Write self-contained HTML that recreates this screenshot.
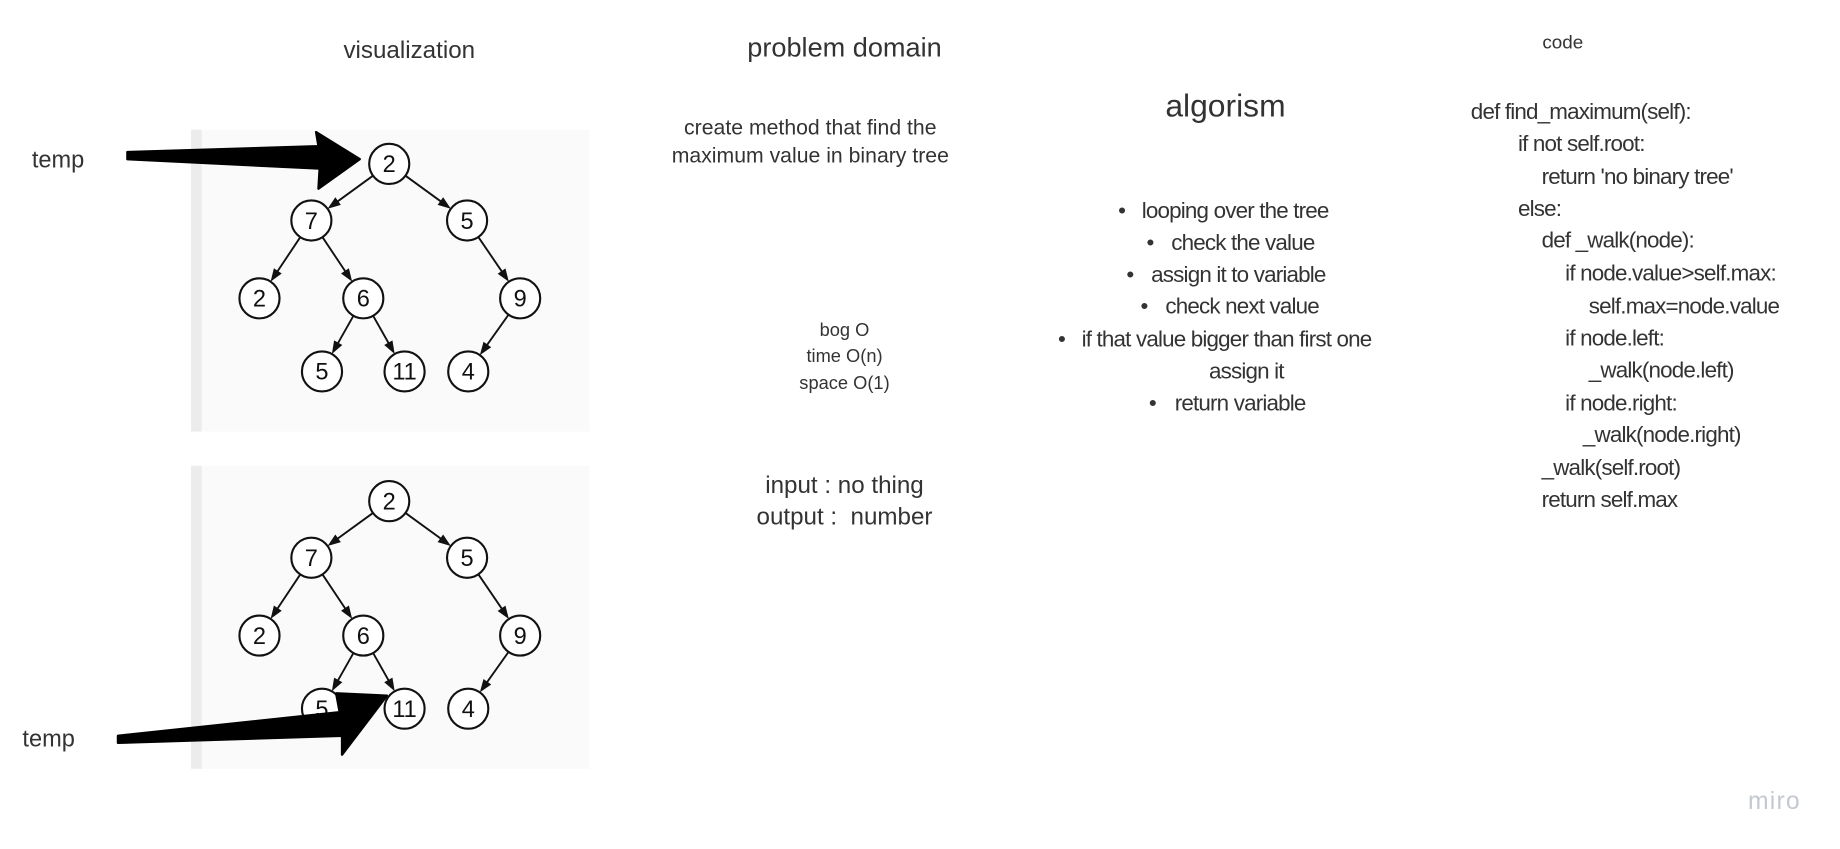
<!DOCTYPE html>
<html><head><meta charset="utf-8"><style>
html,body{margin:0;padding:0;background:#fff;overflow:hidden}
svg{display:block}
text{font-family:"Liberation Sans",sans-serif;fill:#333;white-space:pre}
.c{font-size:19px;letter-spacing:-0.7px}
</style></head><body>
<svg id="s" width="1840" height="849" viewBox="0 0 1560 720" preserveAspectRatio="none">
<text x="347" y="49" font-size="20.5" text-anchor="middle">visualization</text>
<text x="716" y="48" font-size="23" text-anchor="middle">problem domain</text>
<text x="1325" y="41" font-size="16" text-anchor="middle">code</text>
<text x="1039" y="99" font-size="27" text-anchor="middle">algorism</text>

<g><rect x="162" y="110" width="338" height="256" fill="#fafafa"/><rect x="162" y="110" width="9" height="256" fill="#ececec"/><g id="t1"></g></g>
<g><rect x="162" y="395" width="338" height="257" fill="#fafafa"/><rect x="162" y="395" width="9" height="257" fill="#ececec"/><g id="t2"></g></g>

<text x="27" y="142" font-size="20">temp</text>
<path d="M108,129 L270,124 L268,112 L305,135 L270,160 L271,143 L108,135 Z" fill="#000" stroke="#000" stroke-width="2" stroke-linejoin="round"/>
<text x="19" y="633" font-size="20">temp</text>
<path d="M100,624 L288,604 L285,588 L328,590 L290,640 L290,624 L100,630 Z" fill="#000" stroke="#000" stroke-width="2" stroke-linejoin="round"/>

<g font-size="18" text-anchor="middle">
<text x="687" y="114">create method that find the</text>
<text x="687" y="138">maximum value in binary tree</text>
</g>
<g font-size="15.5" text-anchor="middle">
<text x="716" y="285">bog O</text><text x="716" y="307">time O(n)</text><text x="716" y="330">space O(1)</text>
</g>
<g font-size="20.5" text-anchor="middle">
<text x="716" y="418">input : no thing</text><text x="716" y="445">output :  number</text>
</g>

<g class="c">
<text y="185"><tspan x="948">•</tspan><tspan x="968">looping over the tree</tspan></text>
<text y="212"><tspan x="972">•</tspan><tspan x="993">check the value</tspan></text>
<text y="239"><tspan x="955">•</tspan><tspan x="976">assign it to variable</tspan></text>
<text y="266"><tspan x="967">•</tspan><tspan x="988">check next value</tspan></text>
<text y="294"><tspan x="897">•</tspan><tspan x="917">if that value bigger than first one</tspan></text>
<text y="321"><tspan x="1025">assign it</tspan></text>
<text y="348"><tspan x="974">•</tspan><tspan x="996">return variable</tspan></text>
</g>

<g class="c">
<text x="1247" y="101">def find_maximum(self):</text>
<text x="1287" y="128">if not self.root:</text>
<text x="1307" y="156">return 'no binary tree'</text>
<text x="1287" y="183">else:</text>
<text x="1307" y="210">def _walk(node):</text>
<text x="1327" y="238">if node.value&gt;self.max:</text>
<text x="1347" y="266">self.max=node.value</text>
<text x="1327" y="293">if node.left:</text>
<text x="1347" y="320">_walk(node.left)</text>
<text x="1327" y="348">if node.right:</text>
<text x="1342" y="375">_walk(node.right)</text>
<text x="1307" y="403">_walk(self.root)</text>
<text x="1307" y="430">return self.max</text>
</g>
<text x="1482" y="686" font-size="21" style="fill:#c4c8d0;letter-spacing:1px">miro</text>
</svg>
<script>
const nodeLabels=["2","7","5","2","6","9","5","11","4"];
const nodeX=[330,264,396,220,308,441,273,343,397];
const nodeY=[139,187,187,253,253,253,315,315,315];
const edges=[[0,1],[0,2],[1,3],[1,4],[2,5],[4,6],[4,7],[5,8]];
const NS="http://www.w3.org/2000/svg";
function drawTree(gid,dy){
  const g=document.getElementById(gid);const r=17;
  edges.forEach(e=>{
    const x1=nodeX[e[0]],y1=nodeY[e[0]]+dy,x2=nodeX[e[1]],y2=nodeY[e[1]]+dy;
    const dx=x2-x1,dyy=y2-y1,L=Math.hypot(dx,dyy),ux=dx/L,uy=dyy/L;
    const sx=x1+ux*r,sy=y1+uy*r,ex=x2-ux*r,ey=y2-uy*r;
    const l=document.createElementNS(NS,'line');
    
    
    l.setAttribute('x1',sx);l.setAttribute('y1',sy);l.setAttribute('x2',ex-ux*6);l.setAttribute('y2',ey-uy*6);
    l.setAttribute('stroke','#111');l.setAttribute('stroke-width','1.6');g.appendChild(l);
    const p=document.createElementNS(NS,'path');
    
    
    const bx=ex-ux*11,by=ey-uy*11;
    p.setAttribute('d',`M${ex},${ey} L${bx-uy*4},${by+ux*4} L${bx+uy*4},${by-ux*4} Z`);
    p.setAttribute('fill','#111');g.appendChild(p);
  });
  nodeLabels.forEach((t,i)=>{
    const c=document.createElementNS(NS,'circle');
    
    
    c.setAttribute('cx',nodeX[i]);c.setAttribute('cy',nodeY[i]+dy);c.setAttribute('r',r);
    c.setAttribute('fill','#fff');c.setAttribute('stroke','#111');c.setAttribute('stroke-width','1.8');g.appendChild(c);
    const tx=document.createElementNS(NS,'text');
    
    
    tx.setAttribute('x',nodeX[i]);tx.setAttribute('y',nodeY[i]+dy+7);tx.setAttribute('text-anchor','middle');
    tx.setAttribute('font-size','20');tx.setAttribute('style','fill:#111');tx.textContent=t;g.appendChild(tx);
  });
}
drawTree('t1',0);drawTree('t2',286);
</script>
</body></html>
